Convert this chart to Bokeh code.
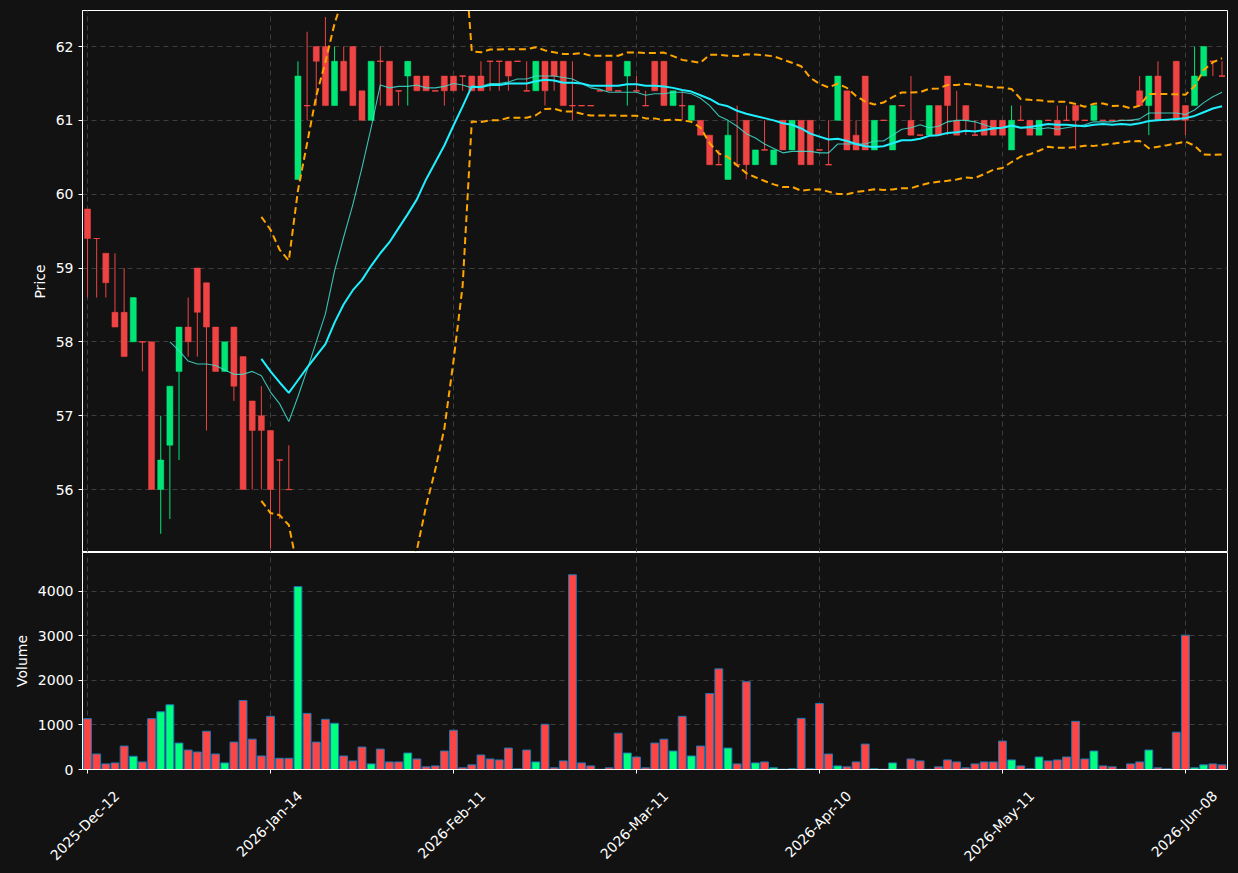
import math
import numpy as np
import pandas as pd
from bokeh.plotting import figure
from bokeh.layouts import column
from bokeh.models import ColumnDataSource, FixedTicker, Range1d, LinearAxis
from bokeh.embed import file_html
from bokeh.resources import INLINE

# ---- data ----
opens = [59.8, 59.4, 59.2, 58.4, 58.4, 58.0, 58.0, 58.0, 56.0, 56.6,
         57.6, 58.2, 59.0, 58.8, 58.2, 57.6, 58.2, 57.8, 57.2, 57.0,
         56.8, 56.4, 56.0, 60.2, 61.2, 62.0, 62.0, 61.2, 61.8, 62.0,
         61.4, 61.0, 61.8, 61.8, 61.4, 61.6, 61.6, 61.6, 61.4, 61.6,
         61.6, 61.6, 61.6, 61.6, 61.8, 61.8, 61.8, 61.8, 61.4, 61.4,
         61.8, 61.8, 61.8, 61.2, 61.2, 61.2, 61.4, 61.8, 61.4, 61.6,
         61.4, 61.2, 61.8, 61.8, 61.2, 61.2, 61.0, 61.0, 60.8, 60.4,
         60.2, 60.4, 61.0, 60.4, 60.6, 60.4, 61.0, 60.6, 61.0, 61.0,
         60.6, 60.4, 61.0, 61.4, 60.8, 61.6, 60.6, 61.0, 60.6, 61.2,
         61.0, 60.8, 60.8, 61.2, 61.6, 61.0, 61.2, 60.8, 61.0, 61.0,
         61.0, 60.6, 61.0, 61.0, 60.8, 61.0, 61.0, 61.0, 61.2, 61.0,
         61.0, 61.0, 61.0, 61.0, 61.0, 61.4, 61.2, 61.6, 61.0, 61.8,
         61.2, 61.2, 61.6, 61.8, 61.6]
highs = [59.8, 59.4, 59.2, 59.2, 59.0, 58.6, 58.0, 58.0, 57.0, 57.4,
         58.2, 58.6, 59.0, 58.8, 58.2, 58.0, 58.2, 57.8, 57.2, 57.4,
         56.8, 56.4, 56.6, 61.8, 62.2, 62.0, 62.4, 62.0, 62.0, 62.0,
         61.4, 61.8, 62.0, 61.8, 61.4, 61.8, 61.6, 61.6, 61.4, 61.6,
         61.6, 61.6, 61.6, 61.8, 61.8, 61.8, 61.8, 61.8, 61.8, 61.8,
         61.8, 61.8, 61.8, 61.8, 61.2, 61.2, 61.4, 61.8, 61.4, 61.8,
         61.6, 61.4, 61.8, 61.8, 61.4, 61.4, 61.2, 61.0, 60.8, 60.6,
         61.0, 61.2, 61.0, 60.6, 61.0, 60.6, 61.0, 61.0, 61.0, 61.0,
         60.6, 61.0, 61.6, 61.4, 61.0, 61.6, 61.0, 61.0, 61.2, 61.2,
         61.6, 60.8, 61.2, 61.2, 61.6, 61.4, 61.2, 61.0, 61.0, 61.0,
         61.0, 61.2, 61.2, 61.0, 61.0, 61.0, 61.2, 61.2, 61.2, 61.0,
         61.2, 61.0, 61.0, 61.0, 61.0, 61.6, 61.6, 61.8, 61.0, 61.8,
         61.2, 62.0, 62.0, 61.8, 61.8]
lows = [58.6, 58.6, 58.6, 58.2, 57.8, 58.0, 57.6, 56.0, 55.4, 55.6,
        56.4, 57.8, 57.8, 56.8, 57.6, 57.6, 57.2, 56.0, 56.0, 56.0,
        55.2, 55.6, 56.0, 60.2, 61.0, 61.2, 61.2, 61.2, 61.4, 61.2,
        61.0, 61.0, 61.2, 61.2, 61.2, 61.2, 61.4, 61.4, 61.4, 61.2,
        61.4, 61.4, 61.4, 61.4, 61.4, 61.4, 61.4, 61.8, 61.4, 61.4,
        61.2, 61.4, 61.2, 61.0, 61.2, 61.2, 61.4, 61.4, 61.4, 61.2,
        61.4, 61.2, 61.4, 61.2, 61.2, 61.0, 61.0, 60.8, 60.4, 60.4,
        60.2, 60.4, 60.2, 60.4, 60.6, 60.4, 60.6, 60.6, 60.4, 60.4,
        60.6, 60.4, 61.0, 60.6, 60.6, 60.6, 60.6, 61.0, 60.6, 61.2,
        60.8, 60.8, 60.8, 60.8, 60.8, 60.8, 60.8, 60.8, 60.8, 60.8,
        60.8, 60.6, 61.0, 60.8, 60.8, 61.0, 60.8, 61.0, 60.6, 61.0,
        61.0, 61.0, 61.0, 61.0, 61.0, 61.2, 60.8, 61.0, 61.0, 61.0,
        60.8, 61.2, 61.6, 61.6, 61.6]
closes = [59.4, 59.4, 58.8, 58.2, 57.8, 58.6, 58.0, 56.0, 56.4, 57.4,
          58.2, 58.0, 58.4, 58.2, 57.6, 58.0, 57.4, 56.0, 56.8, 56.8,
          56.0, 56.4, 56.0, 61.6, 61.2, 61.8, 61.2, 61.8, 61.4, 61.2,
          61.0, 61.8, 61.8, 61.2, 61.4, 61.8, 61.4, 61.4, 61.4, 61.4,
          61.4, 61.6, 61.4, 61.4, 61.8, 61.8, 61.6, 61.8, 61.4, 61.8,
          61.4, 61.6, 61.2, 61.2, 61.2, 61.2, 61.4, 61.4, 61.4, 61.8,
          61.4, 61.2, 61.4, 61.2, 61.4, 61.2, 61.2, 60.8, 60.4, 60.4,
          60.8, 60.4, 60.4, 60.6, 60.6, 60.6, 60.6, 61.0, 60.4, 60.4,
          60.6, 60.4, 61.6, 60.6, 60.6, 60.6, 61.0, 61.0, 61.2, 61.2,
          60.8, 60.8, 61.2, 60.8, 61.2, 60.8, 61.0, 60.8, 60.8, 60.8,
          60.8, 61.0, 61.0, 60.8, 61.0, 61.0, 60.8, 61.0, 61.0, 61.0,
          61.2, 61.0, 61.0, 61.0, 61.0, 61.2, 61.6, 61.0, 61.0, 61.0,
          61.0, 61.6, 62.0, 61.8, 61.6]
volumes = [1141, 348, 126, 148, 526, 296, 170, 1141, 1296, 1452,
           593, 437, 393, 859, 348, 148, 615, 1548, 681, 304,
           1193, 252, 252, 4104, 1259, 615, 1126, 1037, 304, 193,
           504, 126, 459, 170, 170, 370, 237, 59, 81, 415,
           881, 37, 104, 326, 237, 215, 481, 15, 437, 170,
           1015, 37, 193, 4370, 148, 81, 5, 37, 815, 370,
           281, 37, 593, 681, 415, 1193, 304, 526, 1704, 2259,
           481, 126, 1970, 148, 170, 37, 7, 15, 1148, 15,
           1481, 348, 81, 59, 170, 570, 15, 5, 148, 5,
           237, 193, 5, 59, 215, 170, 37, 126, 170, 170,
           637, 215, 81, 15, 281, 193, 215, 281, 1081, 237,
           415, 81, 59, 5, 126, 170, 437, 37, 15, 837,
           3015, 37, 104, 126, 104]
tick_positions = [0, 20, 40, 60, 80, 100, 120]
tick_labels = ["2025-Dec-12", "2026-Jan-14", "2026-Feb-11", "2026-Mar-11",
               "2026-Apr-10", "2026-May-11", "2026-Jun-08"]

# ---- derived ----
n = len(closes)
idx = list(range(n))
c = pd.Series(closes, dtype=float)
ma10 = c.rolling(10).mean()
ma20 = c.rolling(20).mean()
sd20 = c.rolling(20).std(ddof=0)
upper = ma20 + 2 * sd20
lower = ma20 - 2 * sd20

UP_C = "#00E676"
DN_C = "#EF4444"
VUP_C = "#00FF7F"
VDN_C = "#FF4444"
BG = "#121212"
GRID = "#4a4a4a"
FONT = "DejaVu Sans"

up = [cl > op for op, cl in zip(opens, closes)]
cdl_color = [UP_C if u else DN_C for u in up]
vol_color = [VUP_C if u else VDN_C for u in up]

src = ColumnDataSource(dict(
    x=idx, o=opens, h=highs, l=lows, c=closes,
    top=[max(a, b) for a, b in zip(opens, closes)],
    bot=[min(a, b) for a, b in zip(opens, closes)],
    col=cdl_color, v=volumes, vcol=vol_color,
))
doji_idx = [i for i in idx if opens[i] == closes[i]]
doji_src = ColumnDataSource(dict(
    x0=[i - 0.33 for i in doji_idx], x1=[i + 0.33 for i in doji_idx],
    y=[opens[i] for i in doji_idx], col=[cdl_color[i] for i in doji_idx]))
line_src = ColumnDataSource(dict(
    x=idx, ma10=ma10.to_numpy(), ma20=ma20.to_numpy(),
    up=upper.to_numpy(), lo=lower.to_numpy()))

X0, X1 = -0.55, 124.6
xr = Range1d(X0, X1)


def style(p):
    p.background_fill_color = BG
    p.border_fill_color = BG
    p.outline_line_color = "white"
    p.outline_line_width = 1
    for ax in p.yaxis + p.xaxis:
        ax.axis_line_color = "white"
        ax.major_tick_line_color = "white"
        ax.minor_tick_line_color = None
        ax.major_tick_out = 4
        ax.major_tick_in = 0
        ax.major_label_text_color = "white"
        ax.major_label_text_font = FONT
        ax.major_label_text_font_size = "14px"
        ax.axis_label_text_color = "white"
        ax.axis_label_text_font = FONT
        ax.axis_label_text_font_size = "14px"
        ax.axis_label_text_font_style = "normal"
    p.xgrid.grid_line_color = GRID
    p.ygrid.grid_line_color = GRID
    p.xgrid.grid_line_dash = "5 4"
    p.ygrid.grid_line_dash = "5 4"
    p.xgrid.grid_line_alpha = 0.8
    p.ygrid.grid_line_alpha = 0.8


# ---- price panel ----
p = figure(width=1238, height=552, x_range=xr, y_range=Range1d(55.147, 62.488),
           output_backend="svg", toolbar_location=None,
           min_border_top=10, min_border_bottom=0, min_border_left=82,
           min_border_right=11)
p.segment(x0="x", y0="l", x1="x", y1="h", color="col", line_width=1, source=src)
p.vbar(x="x", width=0.66, top="top", bottom="bot", fill_color="col",
       line_color="col", line_width=0.5, source=src)
p.segment(x0="x0", y0="y", x1="x1", y1="y", color="col", line_width=1.2,
          source=doji_src)
p.line("x", "ma10", source=line_src, color="#40E0D0", line_width=1.1, alpha=0.85)
p.line("x", "ma20", source=line_src, color="#1FF0FF", line_width=2)
p.line("x", "up", source=line_src, color="#FFA500", line_width=2,
       line_dash="7 4")
p.line("x", "lo", source=line_src, color="#FFA500", line_width=2,
       line_dash="7 4")
p.yaxis.axis_label = "Price"
p.yaxis.ticker = FixedTicker(ticks=[56, 57, 58, 59, 60, 61, 62])
p.xaxis.ticker = FixedTicker(ticks=tick_positions)
p.xaxis.visible = False
style(p)

# ---- volume panel ----
q = figure(width=1238, height=321, x_range=xr, y_range=Range1d(0, 4870),
           output_backend="svg", toolbar_location=None,
           min_border_top=0, min_border_bottom=103, min_border_left=82,
           min_border_right=11)
q.vbar(x="x", width=0.86, top="v", bottom=0, fill_color="vcol",
       line_color="#1F77B4", line_width=1, source=src)
q.yaxis.axis_label = "Volume"
q.yaxis.ticker = FixedTicker(ticks=[0, 1000, 2000, 3000, 4000])
q.xaxis.ticker = FixedTicker(ticks=tick_positions)
style(q)
q.xaxis.major_label_overrides = {t: "" for t in tick_positions}
q.xaxis.major_label_text_font_size = "0px"
q.xaxis.major_label_standoff = 0

# rotated date labels: a label-only axis whose ticks are shifted so that each
# rotated label is centred under its real tick (matplotlib look)
SHIFT = 3.2
lab_ticks = [t + SHIFT for t in tick_positions]
lab_axis = LinearAxis(ticker=FixedTicker(ticks=lab_ticks),
                      major_label_overrides={lt: l for lt, l in zip(lab_ticks, tick_labels)},
                      axis_line_color=None, major_tick_line_color=None,
                      minor_tick_line_color=None,
                      major_label_orientation=math.pi / 4,
                      major_label_standoff=14,
                      major_label_text_color="white",
                      major_label_text_font=FONT,
                      major_label_text_font_size="14px")
q.add_layout(lab_axis, "below")

layout = column(p, q, spacing=0)
layout.styles = {"background-color": BG}
html = file_html(layout, INLINE)
html = html.replace("<body>", "<body style=\"margin:0;background:%s\">" % BG)
open("out.html", "w").write(html)
